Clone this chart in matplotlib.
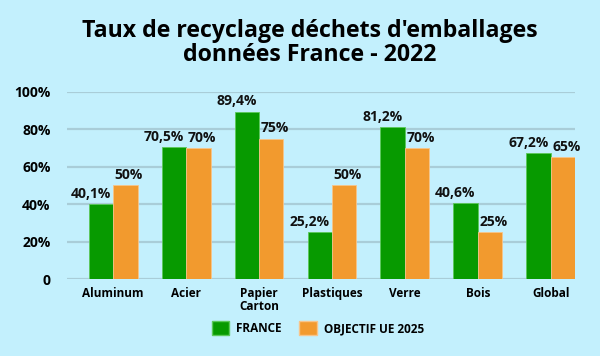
import matplotlib
import matplotlib.pyplot as plt
import numpy as np
from matplotlib.patches import Patch

matplotlib.use('agg')

categories = ['Aluminum', 'Acier', 'Papier\nCarton', 'Plastiques', 'Verre', 'Bois', 'Global']
france = [40.1, 70.5, 89.4, 25.2, 81.2, 40.6, 67.2]
objectif = [50, 70, 75, 50, 70, 25, 65]
france_labels = ['40,1%', '70,5%', '89,4%', '25,2%', '81,2%', '40,6%', '67,2%']
objectif_labels = ['50%', '70%', '75%', '50%', '70%', '25%', '65%']
yticks = [0, 20, 40, 60, 80, 100]
ytick_labels = ['0', '20%', '40%', '60%', '80%', '100%']

bg = '#c3f0fd'
green = '#079a00'
orange = '#f29a2e'
plt.rcParams['font.family'] = ['Open Sans', 'DejaVu Sans']

fig = plt.figure(figsize=(6, 3.56), dpi=100, facecolor=bg)
ax = fig.add_axes([0.112, 0.216, 0.846, 0.526])
ax.set_facecolor(bg)

x = np.arange(len(categories))
w = 0.335
ax.bar(x - w / 2, france, w, color=green, edgecolor='#5cc85a', linewidth=0.6, zorder=3)
ax.bar(x + w / 2, objectif, w, color=orange, edgecolor='#f7c48a', linewidth=0.6, zorder=3)

# value labels: green ones end at the bar's right edge, orange ones start at the left edge
for i in range(len(categories)):
    ax.text(x[i] - 0.03, france[i] + 1.8, france_labels[i], ha='right', va='bottom',
            fontsize=10, fontweight='bold', color='#111111', zorder=4)
    ax.text(x[i] + 0.02, objectif[i] + 1.8, objectif_labels[i], ha='left', va='bottom',
            fontsize=10, fontweight='bold', color='#111111', zorder=4)

ax.set_xlim(-0.63, 6.33)
ax.set_ylim(0, 100)
ax.set_yticks(yticks)
ax.set_yticklabels(ytick_labels, fontsize=10, fontweight='bold')
ax.set_xticks(x)
ax.set_xticklabels(categories, fontsize=8.5, fontweight='bold', linespacing=0.95)
ax.tick_params(length=0, pad=6)
ax.tick_params(axis='y', pad=12)
ax.grid(axis='y', color='#a9cdd8', linewidth=1.6, zorder=0)
ax.set_axisbelow(True)
for s in ax.spines.values():
    s.set_visible(False)

fig.text(0.516, 0.896, "Taux de recyclage déchets d'emballages",
         ha='center', va='baseline', fontsize=16.7, fontweight='bold')
fig.text(0.516, 0.829, "données France - 2022",
         ha='center', va='baseline', fontsize=16.7, fontweight='bold')

handles = [Patch(facecolor=green, edgecolor='#5cc85a'), Patch(facecolor=orange, edgecolor='#f7c48a')]
fig.legend(handles, ['FRANCE', 'OBJECTIF UE 2025'], loc='center', bbox_to_anchor=(0.53, 0.078),
           ncol=2, frameon=False, prop={'weight': 'bold', 'size': 8.5},
           handlelength=1.45, handleheight=1.5, columnspacing=1.5, handletextpad=0.6)

plt.savefig('out.png', dpi=100, facecolor=bg)
plt.close()
